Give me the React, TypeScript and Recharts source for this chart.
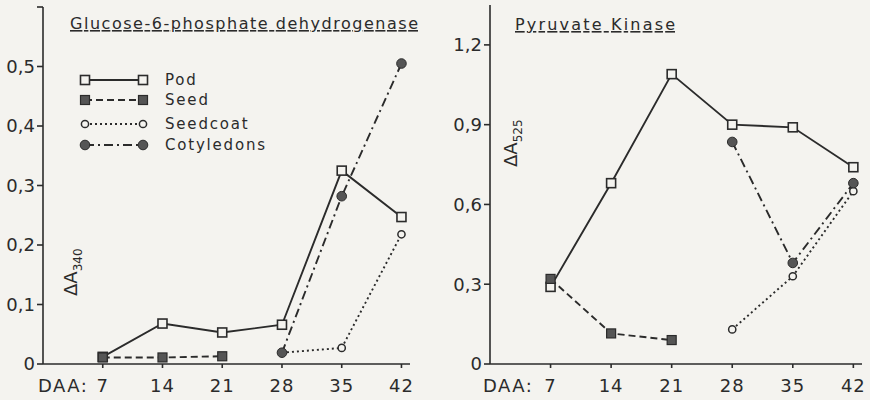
import React from "react";
import { LineChart, Line, XAxis, YAxis } from "recharts";

// sampling days (days after anthesis)
const days = [7, 14, 21, 28, 35, 42];

// Glucose-6-phosphate dehydrogenase, ΔA340
const g6pdPod = [0.012, 0.068, 0.053, 0.066, 0.325, 0.247];
const g6pdSeed = [0.011, 0.011, 0.013, null, null, null];
const g6pdSeedcoat = [null, null, null, 0.019, 0.027, 0.218];
const g6pdCotyledons = [null, null, null, 0.019, 0.282, 0.505];
const g6pdTicks = [0, 0.1, 0.2, 0.3, 0.4, 0.5, 0.6];

// Pyruvate kinase, ΔA525
const pkPod = [0.29, 0.68, 1.09, 0.9, 0.89, 0.74];
const pkSeed = [0.32, 0.115, 0.09, null, null, null];
const pkSeedcoat = [null, null, null, 0.13, 0.33, 0.65];
const pkCotyledons = [null, null, null, 0.835, 0.38, 0.68];
const pkTicks = [0, 0.3, 0.6, 0.9, 1.2];

const seriesLabels = ["Pod", "Seed", "Seedcoat", "Cotyledons"];

const INK = "#2b2b2b";
const PAPER = "#f4f3ef";
const FONT = "'DejaVu Sans', Verdana, sans-serif";

type MarkerKind = "openSquare" | "filledSquare" | "openCircle" | "filledCircle";

const seriesStyle: { key: string; dash?: string; marker: MarkerKind }[] = [
    { key: "pod", marker: "openSquare" },
    { key: "seed", dash: "7 4", marker: "filledSquare" },
    { key: "seedcoat", dash: "2 3", marker: "openCircle" },
    { key: "cotyledons", dash: "9 4 2 4", marker: "filledCircle" },
];

function buildRows(pod: (number | null)[], seed: (number | null)[], seedcoat: (number | null)[], cotyledons: (number | null)[]) {
    return days.map((day, i) => ({
        day,
        pod: pod[i],
        seed: seed[i],
        seedcoat: seedcoat[i],
        cotyledons: cotyledons[i],
    }));
}

const g6pdRows = buildRows(g6pdPod, g6pdSeed, g6pdSeedcoat, g6pdCotyledons);
const pkRows = buildRows(pkPod, pkSeed, pkSeedcoat, pkCotyledons);

function Marker({ cx, cy, kind }: { cx?: number | null; cy?: number | null; kind: MarkerKind }) {
    if (cx == null || cy == null || isNaN(cx) || isNaN(cy)) return null;
    switch (kind) {
        case "openSquare":
            return <rect x={cx - 4.5} y={cy - 4.5} width={9} height={9} fill={PAPER} stroke={INK} strokeWidth={1.6} />;
        case "filledSquare":
            return <rect x={cx - 4.5} y={cy - 4.5} width={9} height={9} fill="#555" stroke={INK} strokeWidth={1.2} />;
        case "openCircle":
            return <circle cx={cx} cy={cy} r={3.6} fill={PAPER} stroke={INK} strokeWidth={1.5} />;
        default:
            return <circle cx={cx} cy={cy} r={4.8} fill="#555" stroke={INK} strokeWidth={1} />;
    }
}

const fmt = (v: number) => (v === 0 ? "0" : v.toFixed(1).replace(".", ","));

// legend drawn by hand, as in the original figure
function LegendRows({ x, y }: { x: number; y: number }) {
    const rows = [0, 20, 44, 65];
    return (
        <g transform={`translate(${x} ${y})`}>
            {seriesStyle.map((s, i) => (
                <g key={s.key}>
                    <line x1={0} x2={58} y1={rows[i]} y2={rows[i]} stroke={INK} strokeWidth={1.8} strokeDasharray={s.dash} />
                    <Marker cx={0} cy={rows[i]} kind={s.marker} />
                    <Marker cx={58} cy={rows[i]} kind={s.marker} />
                    <text x={80} y={rows[i] + 5} fill={INK} fontFamily={FONT} fontSize={15} letterSpacing={1.8}>
                        {seriesLabels[i]}
                    </text>
                </g>
            ))}
        </g>
    );
}

function Panel({ rows, ticks, domainMax, yWidth, width, top, right, hideTopLabel }: any) {
    return (
        <LineChart width={width} height={400} data={rows} margin={{ top, right, bottom: 0, left: 0 }}>
            <XAxis
                dataKey="day"
                type="number"
                domain={[0, 43]}
                ticks={days}
                height={36}
                stroke={INK}
                strokeWidth={1.6}
                tickSize={4}
                tickMargin={11}
                tick={{ fill: INK, fontSize: 18, fontFamily: FONT, letterSpacing: 1 }}
            />
            <YAxis
                type="number"
                domain={[0, domainMax]}
                ticks={ticks}
                width={yWidth}
                stroke={INK}
                strokeWidth={1.6}
                tickSize={6}
                tickMargin={2}
                tickFormatter={(v: number) => (hideTopLabel && v === ticks[ticks.length - 1] ? "" : fmt(v))}
                tick={{ fill: INK, fontSize: 18, fontFamily: FONT }}
            />
            {seriesStyle.map((s) => (
                <Line
                    key={s.key}
                    dataKey={s.key}
                    type="linear"
                    stroke={INK}
                    strokeWidth={1.9}
                    strokeDasharray={s.dash}
                    isAnimationActive={false}
                    dot={(p: any) => <Marker key={`${s.key}-${p.index}`} cx={p.cx} cy={p.cy} kind={s.marker} />}
                    activeDot={false}
                />
            ))}
        </LineChart>
    );
}

export default function App() {
    const textStyle = { fill: INK, fontFamily: FONT } as const;
    return (
        <div style={{ position: "fixed", left: 0, top: 0, width: 870, height: 400, background: PAPER, overflow: "hidden" }}>
            <div style={{ position: "absolute", left: 0, top: 0 }}>
                <Panel rows={g6pdRows} ticks={g6pdTicks} domainMax={0.6} yWidth={43} width={440} top={7} right={30} hideTopLabel />
            </div>
            <div style={{ position: "absolute", left: 440, top: 0 }}>
                <Panel rows={pkRows} ticks={pkTicks} domainMax={1.35} yWidth={50} width={430} top={5} right={8} />
            </div>
            <svg width={870} height={400} style={{ position: "absolute", left: 0, top: 0, pointerEvents: "none" }}>
                <text x={70} y={29} fontSize={16} textLength={348} lengthAdjust="spacing" style={{ ...textStyle, textDecoration: "underline" }}>
                    Glucose-6-phosphate dehydrogenase
                </text>
                <text x={515} y={30} fontSize={16} textLength={160} lengthAdjust="spacing" style={{ ...textStyle, textDecoration: "underline" }}>
                    Pyruvate Kinase
                </text>
                <LegendRows x={85} y={80} />
                <text transform="translate(77 296) rotate(-90)" fontSize={18} style={textStyle}>
                    ΔA<tspan fontSize={12} dy={5}>340</tspan>
                </text>
                <text transform="translate(517 167) rotate(-90)" fontSize={18} style={textStyle}>
                    ΔA<tspan fontSize={12} dy={5}>525</tspan>
                </text>
                <text x={38} y={392} fontSize={18} letterSpacing={1.5} style={textStyle}>DAA:</text>
                <text x={483} y={392} fontSize={18} letterSpacing={1.5} style={textStyle}>DAA:</text>
            </svg>
        </div>
    );
}
